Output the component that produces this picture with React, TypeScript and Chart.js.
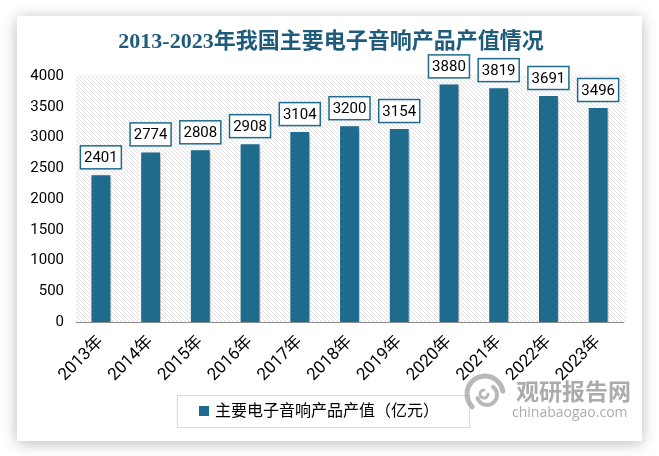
import React, { useEffect, useRef } from 'react';
import { Chart, registerables } from 'chart.js';

Chart.register(...registerables);

const categories = ['2013年', '2014年', '2015年', '2016年', '2017年', '2018年', '2019年', '2020年', '2021年', '2022年', '2023年'];
const values = [2401, 2774, 2808, 2908, 3104, 3200, 3154, 3880, 3819, 3691, 3496];
const yMin = 0;
const yMax = 4000;
const yStep = 500;
const titleText = '2013-2023年我国主要电子音响产品产值情况';
const seriesName = '主要电子音响产品产值（亿元）';
const watermarkCn = '观研报告网';
const watermarkEn = 'chinabaogao.com';

const BAR = '#1E6B8E';
const FONT = "Roboto, 'Noto Sans CJK SC', sans-serif";
const W = 659;
const H = 456;

function makeHatch(ctx: CanvasRenderingContext2D) {
  const c = document.createElement('canvas');
  c.width = 4;
  c.height = 4;
  const p = c.getContext('2d')!;
  p.fillStyle = '#ffffff';
  p.fillRect(0, 0, 4, 4);
  p.fillStyle = '#e0e0e0';
  for (let i = 0; i < 4; i++) p.fillRect(i, i, 1, 1);
  return ctx.createPattern(c, 'repeat');
}

const backgroundPlugin = {
  id: 'bgCard',
  beforeDraw(chart: any) {
    const ctx = chart.ctx as CanvasRenderingContext2D;
    const ca = chart.chartArea;
    ctx.save();
    ctx.fillStyle = '#ffffff';
    ctx.fillRect(0, 0, W, H);
    ctx.shadowColor = 'rgba(0,0,0,0.28)';
    ctx.shadowBlur = 14;
    ctx.shadowOffsetX = 0;
    ctx.shadowOffsetY = 2;
    ctx.fillStyle = '#ffffff';
    ctx.fillRect(17, 16, 625, 425);
    ctx.restore();

    ctx.save();
    ctx.fillStyle = '#1F5C7C';
    ctx.font = "bold 22px 'Liberation Serif', 'Noto Sans CJK SC', serif";
    ctx.textAlign = 'center';
    ctx.textBaseline = 'middle';
    ctx.fillText(titleText, 331, 42);
    ctx.restore();

    ctx.save();
    const pat = makeHatch(ctx);
    if (pat) ctx.fillStyle = pat;
    ctx.fillRect(ca.left, ca.top - 1, ca.right - ca.left + 3, ca.bottom - ca.top + 1);
    ctx.restore();
  },
};

const shadowPlugin = {
  id: 'barShadow',
  beforeDatasetsDraw(chart: any) {
    const ctx = chart.ctx as CanvasRenderingContext2D;
    ctx.save();
    ctx.shadowColor = 'rgba(0,0,0,0.25)';
    ctx.shadowBlur = 4;
    ctx.shadowOffsetX = 3;
    ctx.shadowOffsetY = 2;
  },
  afterDatasetsDraw(chart: any) {
    chart.ctx.restore();
  },
};

const overlayPlugin = {
  id: 'overlay',
  afterDraw(chart: any) {
    const ctx = chart.ctx as CanvasRenderingContext2D;
    const meta = chart.getDatasetMeta(0);
    ctx.save();
    ctx.font = `15px ${FONT}`;
    ctx.textAlign = 'center';
    ctx.textBaseline = 'middle';
    meta.data.forEach((bar: any, i: number) => {
      const txt = String(values[i]);
      const w = 42;
      const h = 24;
      const x = bar.x - w / 2;
      const y = bar.y - 5 - h;
      ctx.fillStyle = '#ffffff';
      ctx.fillRect(x, y, w, h);
      ctx.strokeStyle = BAR;
      ctx.lineWidth = 1.5;
      ctx.strokeRect(x + 0.5, y + 0.5, w - 1, h - 1);
      ctx.fillStyle = '#000000';
      ctx.fillText(txt, bar.x, y + h / 2 + 1);
    });
    ctx.restore();

    ctx.save();
    ctx.strokeStyle = '#d9d9d9';
    ctx.lineWidth = 1;
    ctx.strokeRect(177.5, 395.5, 292, 32);
    ctx.fillStyle = BAR;
    ctx.fillRect(199, 406, 10, 10);
    ctx.fillStyle = '#000000';
    ctx.font = `16px ${FONT}`;
    ctx.textAlign = 'left';
    ctx.textBaseline = 'middle';
    ctx.fillText(seriesName, 215, 412);
    ctx.restore();

    ctx.save();
    ctx.strokeStyle = 'rgba(160,160,160,0.75)';
    ctx.lineCap = 'round';
    ctx.lineWidth = 5;
    ctx.beginPath();
    ctx.arc(485, 394, 18, Math.PI * 0.75, Math.PI * 1.95);
    ctx.stroke();
    ctx.lineWidth = 4;
    ctx.beginPath();
    ctx.arc(487, 395, 10, Math.PI * 1.7, Math.PI * 2.9);
    ctx.stroke();
    ctx.lineWidth = 3;
    ctx.beginPath();
    ctx.arc(484, 394, 4, 0, Math.PI * 1.5);
    ctx.stroke();
    ctx.fillStyle = 'rgba(150,150,150,0.8)';
    ctx.font = "bold 23px 'Noto Sans CJK SC', sans-serif";
    ctx.textAlign = 'left';
    ctx.textBaseline = 'middle';
    ctx.fillText(watermarkCn, 516, 391);
    ctx.font = "14px 'Open Sans', sans-serif";
    ctx.fillText(watermarkEn, 512, 413);
    ctx.restore();
  },
};

export default function App() {
  const ref = useRef<HTMLCanvasElement>(null);
  useEffect(() => {
    document.body.style.margin = '0';
    const canvas = ref.current!;
    const chart = new Chart(canvas, {
      type: 'bar',
      data: {
        labels: categories,
        datasets: [
          {
            label: seriesName,
            data: values,
            backgroundColor: BAR,
            borderColor: '#ffffff',
            borderWidth: 1,
            barPercentage: 0.42,
            categoryPercentage: 1,
          },
        ],
      },
      options: {
        responsive: false,
        animation: false,
        devicePixelRatio: 1,
        layout: { padding: { top: 76, right: 36, left: 0, bottom: 0 } },
        plugins: {
          legend: { display: false },
          title: { display: false },
          tooltip: { enabled: false },
        },
        scales: {
          x: {
            grid: { display: false, drawTicks: false },
            border: { display: true, color: '#8c8c8c', width: 1 },
            ticks: {
              color: '#000000',
              font: { family: FONT, size: 17 },
              minRotation: 45,
              maxRotation: 45,
              padding: 10,
              autoSkip: false,
            },
            afterFit: (s: any) => {
              s.height = 134;
            },
          },
          y: {
            min: yMin,
            max: yMax,
            grid: { display: false, drawTicks: false },
            border: { display: false },
            ticks: {
              stepSize: yStep,
              color: '#000000',
              font: { family: FONT, size: 15 },
              padding: 12,
              callback: (v: any) => String(v),
            },
            afterFit: (s: any) => {
              s.width = 76;
            },
          },
        },
      },
      plugins: [backgroundPlugin, shadowPlugin, overlayPlugin],
    } as any);
    return () => chart.destroy();
  }, []);
  return <canvas ref={ref} width={W} height={H} style={{ display: 'block' }} />;
}
